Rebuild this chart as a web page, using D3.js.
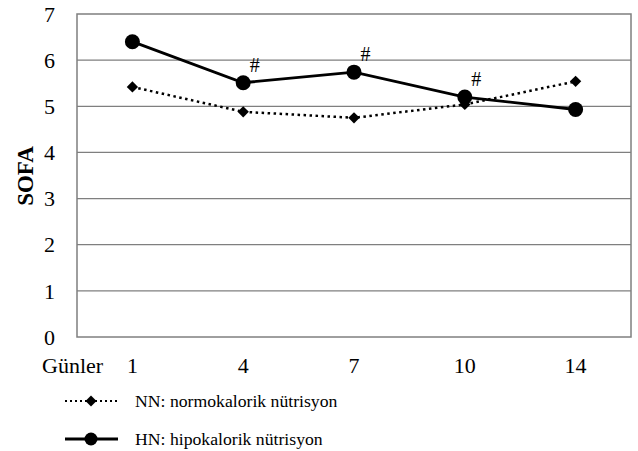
<!DOCTYPE html>
<meta charset="utf-8">
<body style="margin:0;background:#fff">
<script src="https://d3js.org/d3.v7.min.js"></script>
<script>
var days = ["1", "4", "7", "10", "14"];
var nnValues = [5.42, 4.88, 4.75, 5.04, 5.54];
var hnValues = [6.40, 5.51, 5.74, 5.20, 4.93];
var hashDays = ["4", "7", "10"];
var yTicks = [0, 1, 2, 3, 4, 5, 6, 7];

var width = 638, height = 451;
var plotLeft = 77, plotRight = 631, plotTop = 14, plotBottom = 337;
var font = "'Liberation Serif', 'Times New Roman', serif";

var svg = d3.select("body").append("svg")
    .attr("width", width)
    .attr("height", height)
    .style("font-family", font);

var x = d3.scalePoint().domain(days).range([plotLeft, plotRight]).padding(0.5);
var y = d3.scaleLinear().domain([0, 7]).range([plotBottom, plotTop]);

// grid
svg.append("g").selectAll("line")
    .data(yTicks.slice(1, -1))
    .enter().append("line")
    .attr("x1", plotLeft).attr("x2", plotRight)
    .attr("y1", function(d) { return y(d); })
    .attr("y2", function(d) { return y(d); })
    .attr("stroke", "#7f7f7f")
    .attr("stroke-width", 1.3);

svg.append("rect")
    .attr("x", plotLeft).attr("y", plotTop)
    .attr("width", plotRight - plotLeft).attr("height", plotBottom - plotTop)
    .attr("fill", "none")
    .attr("stroke", "#7f7f7f")
    .attr("stroke-width", 1.5);

// y tick labels
svg.append("g").selectAll("text")
    .data(yTicks)
    .enter().append("text")
    .attr("x", 55)
    .attr("y", function(d) { return y(d); })
    .attr("dy", "0.35em")
    .attr("text-anchor", "end")
    .style("font-size", "22px")
    .text(function(d) { return d; });

svg.append("text")
    .attr("transform", "translate(33,176)rotate(-90)")
    .attr("text-anchor", "middle")
    .style("font-size", "23px")
    .style("font-weight", "bold")
    .text("SOFA");

// x labels
svg.append("g").selectAll("text")
    .data(days)
    .enter().append("text")
    .attr("x", function(d) { return x(d); })
    .attr("y", 373)
    .attr("text-anchor", "middle")
    .style("font-size", "22px")
    .text(function(d) { return d; });

svg.append("text")
    .attr("x", 42).attr("y", 373)
    .style("font-size", "22px")
    .text("Günler");

var line = d3.line()
    .x(function(d, i) { return x(days[i]); })
    .y(function(d) { return y(d); });

svg.append("path")
    .attr("d", line(nnValues))
    .attr("fill", "none")
    .attr("stroke", "#000")
    .attr("stroke-width", 2.5)
    .attr("stroke-dasharray", "2.5,3.5");

svg.append("path")
    .attr("d", line(hnValues))
    .attr("fill", "none")
    .attr("stroke", "#000")
    .attr("stroke-width", 2.8);

var diamond = d3.symbol().type(d3.symbolSquare).size(64);

svg.append("g").selectAll("path")
    .data(nnValues)
    .enter().append("path")
    .attr("d", diamond)
    .attr("transform", function(d, i) { return "translate(" + x(days[i]) + "," + y(d) + ")rotate(45)"; })
    .attr("fill", "#000");

svg.append("g").selectAll("circle")
    .data(hnValues)
    .enter().append("circle")
    .attr("cx", function(d, i) { return x(days[i]); })
    .attr("cy", function(d) { return y(d); })
    .attr("r", 7.5)
    .attr("fill", "#000");

// significance marks
svg.append("g").selectAll("text")
    .data(hashDays)
    .enter().append("text")
    .attr("x", function(d) { return x(d) + 11.5; })
    .attr("y", function(d) { return y(hnValues[days.indexOf(d)]) - 11; })
    .attr("text-anchor", "middle")
    .style("font-size", "20px")
    .text("#");

// legend
var lg = svg.append("g");
lg.append("line")
    .attr("x1", 65).attr("x2", 117).attr("y1", 401).attr("y2", 401)
    .attr("stroke", "#000").attr("stroke-width", 2.2)
    .attr("stroke-dasharray", "2,3");
lg.append("path")
    .attr("d", d3.symbol().type(d3.symbolSquare).size(60))
    .attr("transform", "translate(91,401)rotate(45)");
lg.append("text")
    .attr("x", 135).attr("y", 401).attr("dy", "0.35em")
    .style("font-size", "17.7px")
    .text("NN: normokalorik nütrisyon");

lg.append("line")
    .attr("x1", 65).attr("x2", 118).attr("y1", 439).attr("y2", 439)
    .attr("stroke", "#000").attr("stroke-width", 3.2);
lg.append("circle")
    .attr("cx", 91).attr("cy", 439).attr("r", 6.5);
lg.append("text")
    .attr("x", 135).attr("y", 439).attr("dy", "0.35em")
    .style("font-size", "17.7px")
    .text("HN: hipokalorik nütrisyon");
</script>
